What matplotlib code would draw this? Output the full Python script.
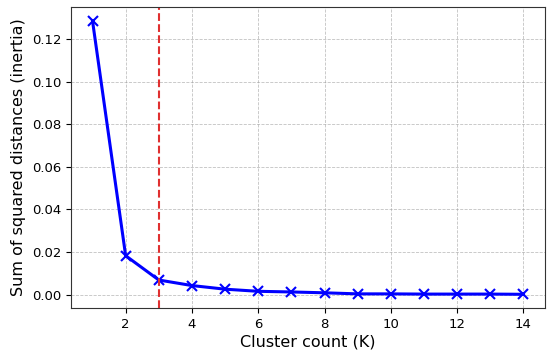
import matplotlib
matplotlib.use('Agg')
import matplotlib.pyplot as plt

# Cluster counts and inertia values
k_values = [1, 2, 3, 4, 5, 6, 7, 8, 9, 10, 11, 12, 13, 14]
inertia = [0.1285, 0.0183, 0.0069, 0.0043, 0.0026, 0.0016, 0.0013, 0.0009,
           0.0004, 0.0004, 0.0003, 0.0003, 0.0003, 0.0002]
best_k = 3

fig = plt.figure(figsize=(5.5, 3.54), dpi=100)
ax = fig.add_axes([0.129, 0.130, 0.862, 0.850])
ax.plot(k_values, inertia, 'bx-', linewidth=2.2, markersize=7, markeredgewidth=1.5)
ax.axvline(x=best_k, color='#e03030', linestyle='--', linewidth=1.5)
ax.set_xlabel('Cluster count (K)', fontsize=11.5, labelpad=3)
ax.set_ylabel('Sum of squared distances (inertia)', fontsize=11.5)
ax.grid(True, linestyle='--', linewidth=0.6, alpha=0.6, color='#999999')
for s in ax.spines.values():
    s.set_color('#333333')
ax.tick_params(labelsize=9.5)
fig.savefig('out.png', dpi=100)
